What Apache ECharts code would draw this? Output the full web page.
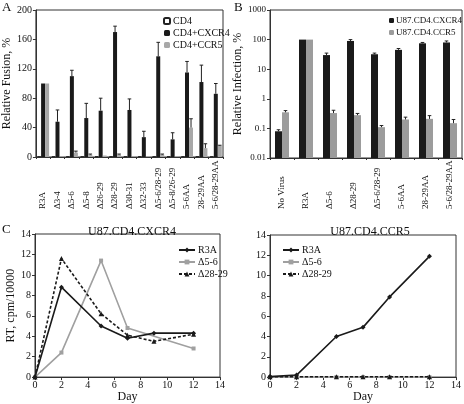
<!DOCTYPE html>
<html><head><meta charset="utf-8">
<script src="https://cdn.jsdelivr.net/npm/echarts@6/dist/echarts.min.js"></script>
<style>html,body{margin:0;padding:0;background:#fff}#c{width:464px;height:404px}</style>
</head><body><div id="c"></div>
<script>
// Panel A
const catsA = ['R3A','Δ3-4','Δ5-6','Δ5-8','Δ26-29','Δ28-29','Δ30-31','Δ32-33','Δ5-6/28-29','Δ5-8/26-29','5-6AA','28-29AA','5-6/28-29AA'];
const cd4A = [1,1,1,1,1,1,1,1,1,1,1,1,1];
const cxcr4A = [100,48,110,53,63,170,64,27,137,24,115,102,86];
const cxcr4TopA = [100,64,118,73,80,178,79,35,156,33,130,125,100];
const ccr5A = [100,1,6,3,2,3,1,1,3,1,40,12,15];
const ccr5TopA = [100,1,8,4,2,4,1,1,4,1,52,18,16];
// Panel B
const catsB = ['No Virus','R3A','Δ5-6','Δ28-29','Δ5-6/28-29','5-6AA','28-29AA','5-6/28-29AA'];
const cxcr4B = [0.08,100,30,90,32,45,75,80];
const cxcr4TopB = [0.09,100,35,100,35,50,80,90];
const ccr5B = [0.35,100,0.33,0.28,0.11,0.2,0.21,0.15];
const ccr5TopB = [0.4,100,0.41,0.32,0.125,0.24,0.27,0.2];
const tickLabelsB = ['0.01','0.1','1','10','100','1000'];
// Panel C (U87.CD4.CXCR4)
const daysR3A_C = [0,2,5,7,9,12];
const r3aC = [0,8.8,5.0,3.8,4.3,4.3];
const daysD56_C = [0,2,5,7,12];
const d56C = [0,2.4,11.4,4.8,2.8];
const daysD2829_C = [0,2,5,7,9,12];
const d2829C = [0,11.6,6.2,4.1,3.5,4.2];
// Panel D (U87.CD4.CCR5)
const daysD = [0,2,5,7,9,12];
const r3aD = [0.05,0.2,4.0,4.9,7.9,11.9];
const d56D = [0,0,0,0,0,0];
const d2829D = [0.03,0.03,0.03,0.03,0.03,0.03];

const FONT = '"Liberation Serif","Times New Roman",serif';
const BLACK = '#1a1a1a', GRAY = '#a8a8a8', LGRAY = '#a0a0a0';
const zip = (xs, ys) => xs.map((x, i) => [x, ys[i]]);

function errSeries(name, xi, yi, vals, tops, offset) {
  return {
    name: name, type: 'custom', xAxisIndex: xi, yAxisIndex: yi, z: 5,
    data: vals.map((v, i) => [i, v, tops[i]]),
    renderItem: function (params, api) {
      if (api.value(2) <= api.value(1)) return null;
      const p0 = api.coord([api.value(0), api.value(1)]);
      const p1 = api.coord([api.value(0), api.value(2)]);
      const x = p0[0] + offset;
      return { type: 'group', children: [
        { type: 'line', shape: { x1: x, y1: p0[1], x2: x, y2: p1[1] }, style: { stroke: '#222', lineWidth: 1 } },
        { type: 'line', shape: { x1: x - 1.8, y1: p1[1], x2: x + 1.8, y2: p1[1] }, style: { stroke: '#222', lineWidth: 1 } }
      ]};
    }
  };
}

const axisLine = { lineStyle: { color: '#333', width: 1 } };
const tick = { show: true, length: 3, lineStyle: { color: '#333' } };
const lblY = { color: '#111', fontFamily: FONT, fontSize: 10, margin: 4 };

const chart = echarts.init(document.getElementById('c'), null, { renderer: 'canvas' });
chart.setOption({
  animation: false,
  textStyle: { fontFamily: FONT },
  graphic: [
    { type: 'text', left: 2, top: 1, style: { text: 'A', font: '13px ' + FONT, fill: '#111' } },
    { type: 'text', left: 234, top: 1, style: { text: 'B', font: '13px ' + FONT, fill: '#111' } },
    { type: 'text', left: 2, top: 223, style: { text: 'C', font: '13px ' + FONT, fill: '#111' } }
  ],
  title: [
    { text: 'U87.CD4.CXCR4', left: 127, top: 221, textAlign: 'center', textStyle: { fontFamily: FONT, fontSize: 12, fontWeight: 'normal', color: '#111' } },
    { text: 'U87.CD4.CCR5', left: 365, top: 221, textAlign: 'center', textStyle: { fontFamily: FONT, fontSize: 12, fontWeight: 'normal', color: '#111' } }
  ],
  legend: [
    { orient: 'vertical', left: 158, top: 11, itemWidth: 6, itemHeight: 6, itemGap: 2, textStyle: { fontFamily: FONT, fontSize: 10, color: '#111', padding: [0,0,0,-2] },
      data: ['CD4', 'CD4+CXCR4', 'CD4+CCR5'] },
    { orient: 'vertical', left: 384, top: 11, itemWidth: 5, itemHeight: 5, itemGap: 3, textStyle: { fontFamily: FONT, fontSize: 9, color: '#111', padding: [0,0,0,-3] },
      data: ['U87.CD4.CXCR4', 'U87.CD4.CCR5'] },
    { orient: 'vertical', left: 173, top: 240, itemWidth: 16, itemHeight: 6, itemGap: 2, textStyle: { fontFamily: FONT, fontSize: 10, color: '#111', padding: [0,0,0,-2] },
      data: ['R3A', 'Δ5-6', 'Δ28-29'] },
    { orient: 'vertical', left: 277, top: 240, itemWidth: 16, itemHeight: 6, itemGap: 2, textStyle: { fontFamily: FONT, fontSize: 10, color: '#111', padding: [0,0,0,-2] },
      data: ['R3A', 'Δ5-6', 'Δ28-29'] }
  ],
  grid: [
    { left: 31, top: 10, width: 192, height: 147, show: true, borderColor: '#333', borderWidth: 1 },
    { left: 270, top: 10, width: 192, height: 148, show: true, borderColor: '#333', borderWidth: 1 },
    { left: 35, top: 234, width: 185, height: 149, show: true, borderColor: '#333', borderWidth: 1 },
    { left: 270, top: 235, width: 190, height: 148, show: true, borderColor: '#333', borderWidth: 1 }
  ],
  xAxis: [
    { type: 'category', gridIndex: 0, data: catsA, axisLine: axisLine, axisTick: { show: true, length: 2, lineStyle: { color: '#333' } },
      axisLabel: { interval: 0, rotate: 90, align: 'left', verticalAlign: 'middle', margin: 52, fontFamily: FONT, fontSize: 9, color: '#111' } },
    { type: 'category', gridIndex: 1, data: catsB, axisLine: axisLine, axisTick: { show: true, length: 2, lineStyle: { color: '#333' } },
      axisLabel: { interval: 0, rotate: 90, align: 'left', verticalAlign: 'middle', margin: 51, fontFamily: FONT, fontSize: 9, color: '#111' } },
    { type: 'value', gridIndex: 2, min: 0, max: 14, interval: 2, axisLine: axisLine, axisTick: tick, splitLine: { show: false },
      axisLabel: { color: '#111', fontFamily: FONT, fontSize: 10, margin: 3 },
      name: 'Day', nameLocation: 'middle', nameGap: 10, nameTextStyle: { fontFamily: FONT, fontSize: 12, color: '#111' } },
    { type: 'value', gridIndex: 3, min: 0, max: 14, interval: 2, axisLine: axisLine, axisTick: tick, splitLine: { show: false },
      axisLabel: { color: '#111', fontFamily: FONT, fontSize: 10, margin: 3 },
      name: 'Day', nameLocation: 'middle', nameGap: 10, nameTextStyle: { fontFamily: FONT, fontSize: 12, color: '#111' } }
  ],
  yAxis: [
    { type: 'value', gridIndex: 0, min: 0, max: 200, interval: 40, axisLine: { show: true, lineStyle: { color: '#333' } }, axisTick: tick, splitLine: { show: false },
      axisLabel: lblY, name: 'Relative Fusion, %', nameLocation: 'middle', nameGap: 17, nameTextStyle: { fontFamily: FONT, fontSize: 12, color: '#111' } },
    { type: 'log', logBase: 10, gridIndex: 1, min: 0.01, max: 1000, startValue: 0.01, axisLine: { show: true, lineStyle: { color: '#333' } }, axisTick: tick, splitLine: { show: false },
      axisLabel: Object.assign({}, lblY, { fontSize: 9, formatter: v => tickLabelsB[Math.round(Math.log10(v)) + 2] }),
      name: 'Relative Infection, %', nameLocation: 'middle', nameGap: 14, nameTextStyle: { fontFamily: FONT, fontSize: 12, color: '#111' } },
    { type: 'value', gridIndex: 2, min: 0, max: 14, interval: 2, axisLine: { show: true, lineStyle: { color: '#333' } }, axisTick: tick, splitLine: { show: false },
      axisLabel: lblY, name: 'RT, cpm/10000', nameLocation: 'middle', nameGap: 17, nameTextStyle: { fontFamily: FONT, fontSize: 12, color: '#111' } },
    { type: 'value', gridIndex: 3, min: 0, max: 14, interval: 2, axisLine: { show: true, lineStyle: { color: '#333' } }, axisTick: tick, splitLine: { show: false },
      axisLabel: lblY }
  ],
  series: [
    { name: 'CD4', type: 'bar', xAxisIndex: 0, yAxisIndex: 0, data: cd4A, barWidth: 4, barGap: '0%',
      itemStyle: { color: '#fff', borderColor: '#222', borderWidth: 0.8 } },
    { name: 'CD4+CXCR4', type: 'bar', xAxisIndex: 0, yAxisIndex: 0, data: cxcr4A, barWidth: 4, barGap: '0%', itemStyle: { color: BLACK } },
    { name: 'CD4+CCR5', type: 'bar', xAxisIndex: 0, yAxisIndex: 0, data: ccr5A, barWidth: 4, barGap: '0%', itemStyle: { color: GRAY } },
    errSeries('errA1', 0, 0, cxcr4A, cxcr4TopA, 0),
    errSeries('errA2', 0, 0, ccr5A, ccr5TopA, 4),
    { name: 'U87.CD4.CXCR4', type: 'bar', xAxisIndex: 1, yAxisIndex: 1, data: cxcr4B, barWidth: 7, barGap: '0%', itemStyle: { color: BLACK } },
    { name: 'U87.CD4.CCR5', type: 'bar', xAxisIndex: 1, yAxisIndex: 1, data: ccr5B, barWidth: 7, barGap: '0%', itemStyle: { color: '#9c9c9c' } },
    errSeries('errB1', 1, 1, cxcr4B, cxcr4TopB, -3.5),
    errSeries('errB2', 1, 1, ccr5B, ccr5TopB, 3.5),
    { name: 'R3A', type: 'line', xAxisIndex: 2, yAxisIndex: 2, data: zip(daysR3A_C, r3aC), symbol: 'diamond', symbolSize: 5, z: 4,
      lineStyle: { color: BLACK, width: 1.6 }, itemStyle: { color: BLACK } },
    { name: 'Δ5-6', type: 'line', xAxisIndex: 2, yAxisIndex: 2, data: zip(daysD56_C, d56C), symbol: 'rect', symbolSize: 4, z: 3,
      lineStyle: { color: LGRAY, width: 1.6 }, itemStyle: { color: LGRAY } },
    { name: 'Δ28-29', type: 'line', xAxisIndex: 2, yAxisIndex: 2, data: zip(daysD2829_C, d2829C), symbol: 'triangle', symbolSize: 5, z: 5,
      lineStyle: { color: BLACK, width: 1.6, type: [3, 2] }, itemStyle: { color: BLACK } },
    { name: 'R3A', type: 'line', xAxisIndex: 3, yAxisIndex: 3, data: zip(daysD, r3aD), symbol: 'diamond', symbolSize: 5, z: 4,
      lineStyle: { color: BLACK, width: 1.6 }, itemStyle: { color: BLACK } },
    { name: 'Δ5-6', type: 'line', xAxisIndex: 3, yAxisIndex: 3, data: zip(daysD, d56D), symbol: 'rect', symbolSize: 4, z: 3,
      lineStyle: { color: LGRAY, width: 1.6 }, itemStyle: { color: LGRAY } },
    { name: 'Δ28-29', type: 'line', xAxisIndex: 3, yAxisIndex: 3, data: zip(daysD, d2829D), symbol: 'triangle', symbolSize: 5, z: 5,
      lineStyle: { color: BLACK, width: 1.6, type: [3, 2] }, itemStyle: { color: BLACK } }
  ]
});
</script></body></html>
